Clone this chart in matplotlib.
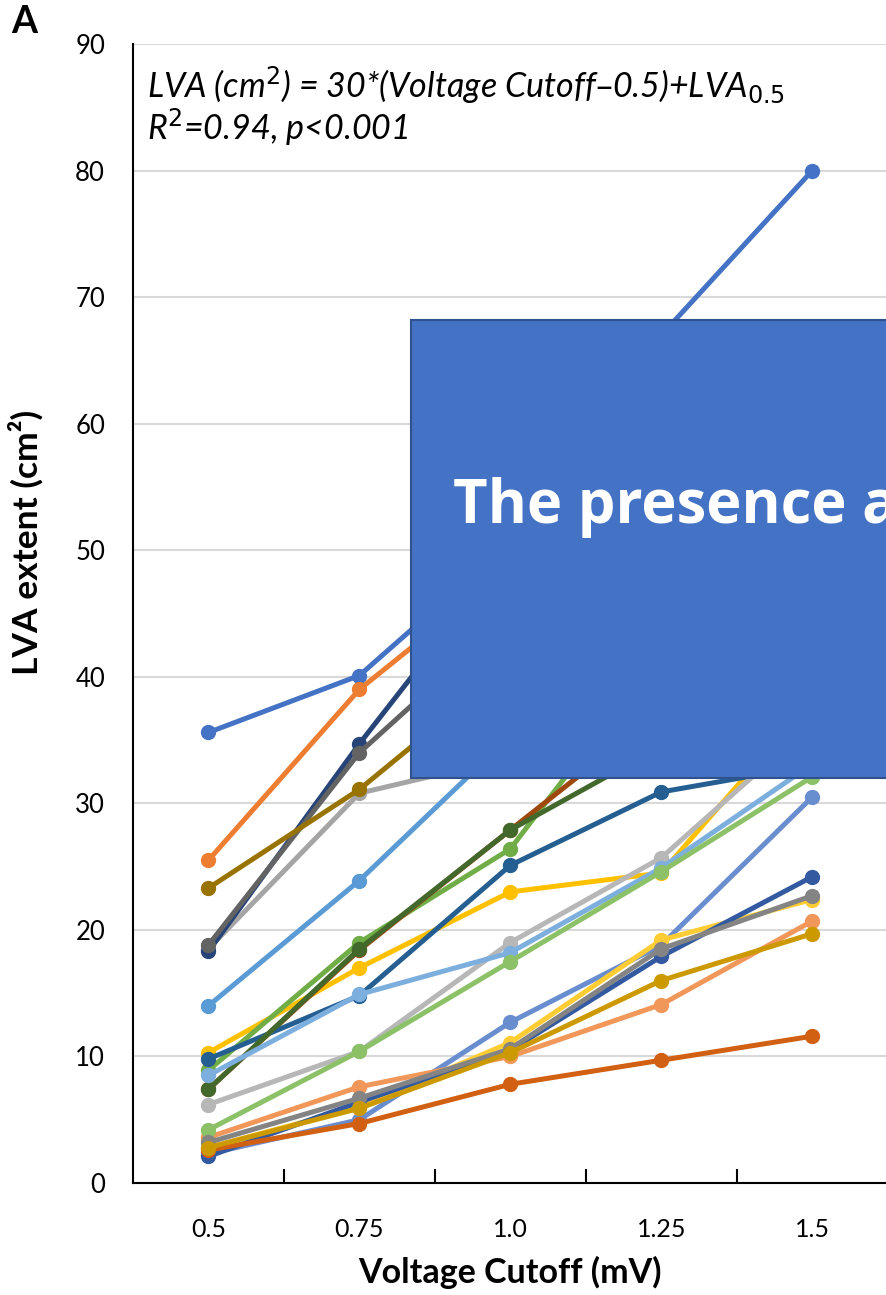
import matplotlib.pyplot as plt
from matplotlib.patches import Rectangle

plt.rcParams['font.family'] = ['Lato', 'DejaVu Sans']

# voltage cutoffs (mV) used as categories
cutoffs = ['0.5', '0.75', '1.0', '1.25', '1.5']

# LVA extent (cm2) per patient, Excel palette order
colors = ['#4472C4', '#ED7D31', '#A5A5A5', '#FFC000', '#5B9BD5', '#70AD47',
          '#264478', '#9E480E', '#636363', '#997300', '#255E91', '#43682B',
          '#698ED0', '#F1975A', '#B7B7B7', '#FFCD33', '#7CAFDD', '#8CC168',
          '#335AA1', '#D26012', '#848484', '#CC9A00']

p01 = [35.6, 40.1, 50.6, 67.0, 80.0]
p02 = [25.5, 39.0, 48.6, 58.0, 65.0]
p03 = [18.5, 30.8, 33.6, 42.0, 50.0]
p04 = [10.3, 17.0, 23.0, 24.5, 38.2]
p05 = [14.0, 23.9, 35.3, 45.0, 55.0]
p06 = [8.9, 19.0, 26.4, 42.0, 52.0]
p07 = [18.3, 34.7, 50.0, 60.0, 66.0]
p08 = [7.4, 18.4, 27.9, 37.3, 45.0]
p09 = [18.8, 34.0, 44.8, 52.0, 60.0]
p10 = [23.3, 31.1, 40.9, 48.0, 56.0]
p11 = [9.8, 14.8, 25.1, 30.9, 33.0]
p12 = [7.4, 18.5, 27.9, 34.5, 40.0]
p13 = [2.3, 5.0, 12.7, 18.8, 30.5]
p14 = [3.6, 7.6, 10.0, 14.1, 20.7]
p15 = [6.2, 10.4, 19.0, 25.7, 36.3]
p16 = [2.8, 6.0, 11.1, 19.2, 22.4]
p17 = [8.5, 14.9, 18.2, 24.9, 33.1]
p18 = [4.2, 10.4, 17.5, 24.6, 32.1]
p19 = [2.1, 6.4, 10.5, 17.9, 24.2]
p20 = [2.6, 4.7, 7.8, 9.7, 11.6]
p21 = [3.2, 6.7, 10.6, 18.5, 22.7]
p22 = [2.8, 5.9, 10.3, 16.0, 19.7]

patients = [p01, p02, p03, p04, p05, p06, p07, p08, p09, p10, p11,
            p12, p13, p14, p15, p16, p17, p18, p19, p20, p21, p22]

fig = plt.figure(figsize=(8.86, 12.95), dpi=100)
ax = fig.add_axes([0.150, 0.0865, 0.852, 0.8795])

x = range(len(cutoffs))
for vals, c in zip(patients, colors):
    ax.plot(x, vals, color=c, lw=3.6, marker='o', ms=10, zorder=3)

ax.set_xlim(-0.5, 4.5)
ax.set_ylim(0, 90)
ax.set_yticks(range(0, 91, 10))
ax.set_xticks(list(x))
ax.set_xticklabels(cutoffs)
ax.set_xticks([0.5, 1.5, 2.5, 3.5], minor=True)
ax.tick_params(axis='y', length=0, labelsize=18.5, pad=20)
ax.tick_params(axis='x', which='major', length=0, labelsize=18, pad=25)
ax.tick_params(axis='x', which='minor', direction='in', length=10, width=1.5, color='black')
ax.grid(axis='y', color='#D9D9D9', lw=1.5, zorder=0)
ax.set_axisbelow(True)
for s in ['top', 'right']:
    ax.spines[s].set_visible(False)
ax.spines['left'].set_linewidth(1.5)
ax.spines['bottom'].set_linewidth(1.5)

ax.set_xlabel('Voltage Cutoff (mV)', fontsize=24.5, fontweight='bold', labelpad=11)
ax.set_ylabel('LVA extent (cm²)', fontsize=25.5, fontweight='bold')
ax.yaxis.set_label_coords(-0.118, 0.562)

ax.text(0.019, 0.964, r'LVA (cm$^{2}$) = 30*(Voltage Cutoff–0.5)+LVA$_{0.5}$',
        transform=ax.transAxes, fontsize=24.5, style='italic', va='center')
ax.text(0.019, 0.927, r'R$^{2}$=0.94, p<0.001',
        transform=ax.transAxes, fontsize=24.5, style='italic', va='center')

fig.text(0.013, 0.983, 'A', fontsize=27, fontweight='bold', va='center')

# blue callout box overlapping the right side
box = Rectangle((411 / 886, 1 - 778 / 1295), 0.6, (778 - 320) / 1295,
                transform=fig.transFigure, facecolor='#4472C4',
                edgecolor='#2F528F', lw=1.5, zorder=10)
fig.add_artist(box)
fig.text(453 / 886, 1 - 507 / 1295, 'The presence and',
         fontsize=43, fontweight='bold', color='white',
         family=['Open Sans', 'DejaVu Sans'], va='center', zorder=11)

fig.savefig('out.png', dpi=100)
